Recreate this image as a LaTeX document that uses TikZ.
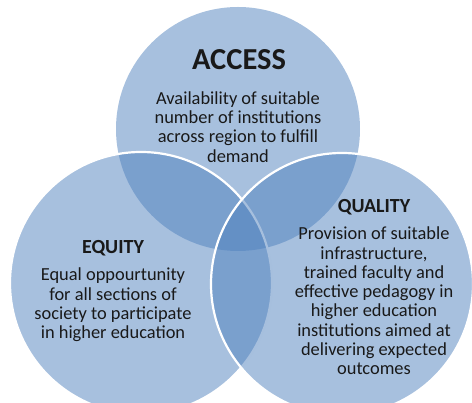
\documentclass[tikz,border=0pt]{standalone}
\usepackage{fontspec}
\setmainfont{Carlito}
\usetikzlibrary{positioning}
\definecolor{vennblue}{RGB}{79,129,189}
\tikzset{
  venn/.style={circle, inner sep=0pt, fill=vennblue, fill opacity=0.5, draw=white, line width=2.2pt},
  head/.style={font=\bfseries\fontsize{20}{24}\selectfont, text=black!90},
  body/.style={align=center, font=\fontsize{18.4}{19.3}\selectfont, text=black!90}
}

\begin{document}
\begin{tikzpicture}[x=1pt, y=-1pt]
\useasboundingbox (0,0) rectangle (472,403);
\clip (0,0) rectangle (472,403);
\node[venn, draw=none, minimum size=244pt] (access) at (238, 129) {};
\node[venn, minimum size=262pt] (equity) at (141, 283) {};
\node[venn, minimum size=262pt] (quality) at (342, 284) {};
\node[head, font=\bfseries\fontsize{30.5}{34}\selectfont] (accesshead) at (239, 60) {ACCESS};
\node[body] (accesstext) at (238, 127) {Availability of suitable\\number of institutions\\across region to fulfill\\demand};
\node[head] (equityhead) at (113, 248) {EQUITY};
\node[body] (equitytext) at (113, 305) {Equal oppourtunity\\for all sections of\\society to participate\\in higher education};
\node[head] (qualityhead) at (374, 207) {QUALITY};
\node[body] (qualitytext) at (374, 301) {Provision of suitable\\infrastructure,\\trained faculty and\\effective pedagogy in\\higher education\\institutions aimed at\\delivering expected\\outcomes};
\end{tikzpicture}
\end{document}
